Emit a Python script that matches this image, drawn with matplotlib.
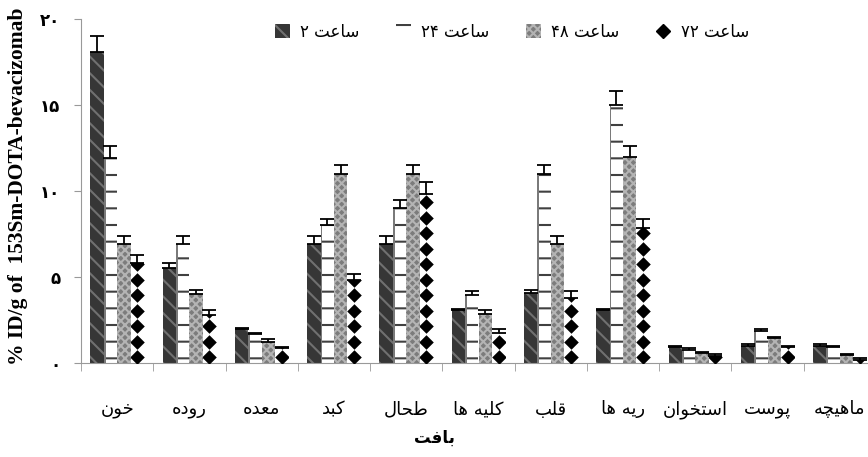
import re
import numpy as np
import matplotlib
matplotlib.use("Agg")
import matplotlib.pyplot as plt
from matplotlib.patches import Patch
from matplotlib.lines import Line2D
from matplotlib.ticker import FixedLocator, FuncFormatter

# tissue names and uptake (%ID/g) at 2, 24, 48, 72 h
tissues = ['خون', 'روده', 'معده', 'کبد', 'طحال', 'کلیه ها', 'قلب', 'ریه ها', 'استخوان', 'پوست', 'ماهیچه']
series_names = ['ساعت ۲', 'ساعت ۲۴', 'ساعت ۴۸', 'ساعت ۷۲']

h2 = [18.1, 5.5, 2.0, 6.9, 6.9, 3.1, 4.05, 3.1, 0.93, 1.0, 1.0]
h24 = [11.9, 6.9, 1.7, 8.0, 9.0, 3.95, 11.0, 15.0, 0.77, 1.85, 0.93]
h48 = [6.9, 4.0, 1.2, 11.0, 11.0, 2.85, 6.9, 12.0, 0.58, 1.45, 0.47]
h72 = [5.8, 2.8, 0.9, 4.8, 9.8, 1.75, 3.8, 7.85, 0.42, 0.95, 0.15]

err2 = [0.9, 0.3, 0.05, 0.5, 0.5, 0.05, 0.2, 0.05, 0.07, 0.1, 0.1]
err24 = [0.7, 0.5, 0.03, 0.4, 0.5, 0.25, 0.5, 0.8, 0.08, 0.15, 0.05]
err48 = [0.5, 0.25, 0.2, 0.5, 0.5, 0.25, 0.5, 0.6, 0.07, 0.05, 0.05]
err72 = [0.5, 0.3, 0.05, 0.4, 0.7, 0.25, 0.4, 0.55, 0.08, 0.05, 0.15]

y_ticks = [0, 5, 10, 15, 20]

# --- minimal Persian shaping (matplotlib has no bidi / joining) ---
FORMS = {
    'ا': (0xFE8D, 0xFE8E, None, None),
    'ب': (0xFE8F, 0xFE90, 0xFE91, 0xFE92),
    'ت': (0xFE95, 0xFE96, 0xFE97, 0xFE98),
    'ح': (0xFEA1, 0xFEA2, 0xFEA3, 0xFEA4),
    'خ': (0xFEA5, 0xFEA6, 0xFEA7, 0xFEA8),
    'د': (0xFEA9, 0xFEAA, None, None),
    'ر': (0xFEAD, 0xFEAE, None, None),
    'س': (0xFEB1, 0xFEB2, 0xFEB3, 0xFEB4),
    'ط': (0xFEC1, 0xFEC2, 0xFEC3, 0xFEC4),
    'ع': (0xFEC9, 0xFECA, 0xFECB, 0xFECC),
    'ف': (0xFED1, 0xFED2, 0xFED3, 0xFED4),
    'ق': (0xFED5, 0xFED6, 0xFED7, 0xFED8),
    'ل': (0xFEDD, 0xFEDE, 0xFEDF, 0xFEE0),
    'م': (0xFEE1, 0xFEE2, 0xFEE3, 0xFEE4),
    'ن': (0xFEE5, 0xFEE6, 0xFEE7, 0xFEE8),
    'ه': (0xFEE9, 0xFEEA, 0xFEEB, 0xFEEC),
    'و': (0xFEED, 0xFEEE, None, None),
    'پ': (0xFB56, 0xFB57, 0xFB58, 0xFB59),
    'چ': (0xFB7A, 0xFB7B, 0xFB7C, 0xFB7D),
    'ک': (0xFB8E, 0xFB8F, 0xFB90, 0xFB91),
    'ی': (0xFBFC, 0xFBFD, 0xFBFE, 0xFBFF),
}


def fa(text):
    out = []
    for i, c in enumerate(text):
        if c not in FORMS:
            out.append(c)
            continue
        prev = text[i - 1] if i > 0 else ''
        nxt = text[i + 1] if i + 1 < len(text) else ''
        join_prev = prev in FORMS and FORMS[prev][2] is not None
        join_next = nxt in FORMS and FORMS[c][2] is not None
        isol, fin, ini, med = FORMS[c]
        if join_prev and join_next:
            code = med
        elif join_prev:
            code = fin
        elif join_next:
            code = ini
        else:
            code = isol
        out.append(chr(code))
    tokens = re.findall(r'[0-9۰-۹]+|[^0-9۰-۹]', ''.join(out))
    return ''.join(reversed(tokens))


def fa_digits(v, pos=None):
    return str(int(round(v))).translate(str.maketrans('0123456789', '۰۱۲۳۴۵۶۷۸۹'))


fig = plt.figure(figsize=(8.68, 4.57), dpi=100)
ax = fig.add_axes([81 / 868, 94 / 457, 795 / 868, 344 / 457])

x = np.arange(len(tissues))
w = 0.185
styles = [
    dict(color='#363636', edgecolor='#707070', hatch='\\\\', linewidth=0),
    dict(color='white', edgecolor='#404040', hatch='-', linewidth=0),
    dict(color='#7c7c7c', edgecolor='#b4b4b4', hatch='xxxx', linewidth=0),
    dict(color='white', edgecolor='white', linewidth=0),
]
values = [h2, h24, h48, h72]
errors = [err2, err24, err48, err72]

plt.rcParams['hatch.linewidth'] = 1.5
for k in range(4):
    pos = x + (k - 1.5) * w
    bars = ax.bar(pos, values[k], w, **styles[k], zorder=2)
    ax.errorbar(pos, values[k], yerr=[np.zeros(len(x)), errors[k]], fmt='none',
                ecolor='black', elinewidth=1.3, capsize=5, capthick=1.3, zorder=4)
    if k == 1:
        # dark left edge of the striped bars
        ax.bar(pos - w / 2 + 0.012, values[k], 0.024, color='#7a7a7a', linewidth=0, zorder=3)
    if k == 3:
        # diamond fill pattern, clipped to each bar
        for b, p, v in zip(bars, pos, values[k]):
            ys = np.arange(0.35, v + 0.9, 0.9)
            pts = ax.scatter(np.full(len(ys), p), ys, marker='D', s=55, color='black',
                             linewidths=0, zorder=3)
            pts.set_clip_path(b)

ax.set_xlim(-0.5, len(tissues) - 0.5)
ax.set_ylim(0, 20)

ax.xaxis.set_major_locator(FixedLocator(x))
ax.set_xticklabels([fa(t) for t in tissues], fontsize=13)
ax.xaxis.set_minor_locator(FixedLocator(np.arange(-0.5, len(tissues), 1.0)))
ax.tick_params(axis='x', which='major', length=0, pad=27)
ax.tick_params(axis='x', which='minor', length=6, color='#999999', direction='out')

ax.yaxis.set_major_locator(FixedLocator(y_ticks))
ax.yaxis.set_major_formatter(FuncFormatter(fa_digits))
ax.tick_params(axis='y', length=5, color='#999999', direction='out', labelsize=12, pad=10)
for lab in ax.get_yticklabels():
    lab.set_fontweight('bold')

for s in ['top', 'right']:
    ax.spines[s].set_visible(False)
for s in ['left', 'bottom']:
    ax.spines[s].set_color('#999999')

ax.set_ylabel('% ID/g of  153Sm-DOTA-bevacizomab', family='Liberation Serif',
              fontweight='bold', fontsize=15.5)
ax.yaxis.set_label_coords(-0.067, 0.515)
ax.set_xlabel(fa('بافت'), fontweight='bold', fontsize=12)
ax.xaxis.set_label_coords(0.444, -0.19)

handles = [
    Patch(facecolor='#363636', edgecolor='#707070', hatch='\\\\', linewidth=0),
    Patch(facecolor='white', edgecolor='#404040', hatch='-', linewidth=0),
    Patch(facecolor='#7c7c7c', edgecolor='#b4b4b4', hatch='xxxx', linewidth=0),
    Line2D([], [], marker='D', color='black', linestyle='none', markersize=7),
]
fig.legend(handles, [fa(n) for n in series_names], loc='center', ncol=4,
           bbox_to_anchor=(0.59, 0.93), frameon=False, fontsize=12,
           handlelength=0.9, handleheight=0.9, columnspacing=2.2, handletextpad=0.6)

fig.savefig('out.png', dpi=100)
